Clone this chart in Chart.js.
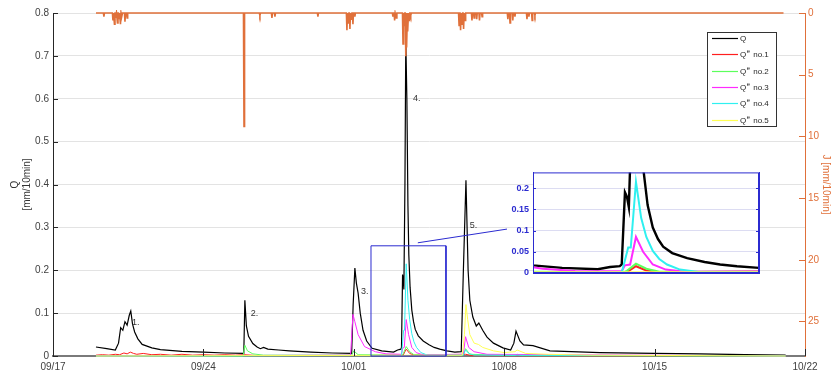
<!DOCTYPE html>
<html>
<head>
<meta charset="utf-8">
<script src="https://cdn.jsdelivr.net/npm/chart.js@4"></script>
<style>
body { margin: 0; background: #fff; font-family: "Liberation Sans", Arial, sans-serif; }
#wrap { position: relative; width: 836px; height: 378px; }
#main { position: absolute; left: 0; top: 0; }
#inset { position: absolute; left: 500px; top: 163px; }
</style>
</head>
<body>
<div id="wrap">
  <canvas id="main" width="836" height="378"></canvas>
  <canvas id="inset" width="270" height="120"></canvas>
</div>
<script>
// dates on the x axis (days since 09/17)
const dates = ["09/17", "09/24", "10/01", "10/08", "10/15", "10/22"];

// Q [mm/10min] : [day, value]
const qObs = [
  [2.0,0.021],[2.5,0.017],[2.9,0.014],[3.05,0.03],[3.15,0.066],[3.25,0.06],[3.35,0.08],[3.45,0.072],
  [3.55,0.095],[3.62,0.105],[3.7,0.075],[3.8,0.056],[3.95,0.04],[4.15,0.027],[4.6,0.019],[5.0,0.015],
  [6.0,0.011],[7.0,0.009],[8.0,0.007],[8.88,0.006],[8.93,0.13],[9.0,0.07],[9.1,0.046],[9.3,0.029],
  [9.5,0.021],[9.65,0.017],[9.8,0.02],[10.0,0.016],[10.5,0.014],[11.0,0.012],[12.0,0.009],[13.0,0.007],
  [13.9,0.006],[13.97,0.12],[14.05,0.205],[14.12,0.17],[14.2,0.147],[14.3,0.1],[14.43,0.06],[14.6,0.035],
  [14.85,0.018],[15.3,0.012],[15.85,0.009],[16.04,0.014],[16.19,0.016],[16.22,0.02],[16.27,0.19],[16.3,0.18],
  [16.33,0.155],[16.38,0.4],[16.42,0.74],[16.47,0.6],[16.52,0.35],[16.56,0.237],[16.62,0.16],[16.7,0.107],
  [16.78,0.08],[16.86,0.062],[17.0,0.047],[17.23,0.035],[17.5,0.026],[17.74,0.02],[18.0,0.016],[18.34,0.012],
  [18.7,0.009],[19.0,0.01],[19.1,0.2],[19.22,0.41],[19.32,0.2],[19.4,0.13],[19.54,0.091],[19.7,0.07],
  [19.82,0.077],[20.0,0.06],[20.2,0.044],[20.5,0.03],[20.94,0.019],[21.3,0.014],[21.45,0.03],[21.55,0.058],
  [21.73,0.035],[21.9,0.026],[22.34,0.024],[23.13,0.012],[25.45,0.008],[28.0,0.006],[30.1,0.005],[32.2,0.003],
  [34.1,0.002]
];

// Qe no.1 .. no.5
const qe1 = [
  [2.0,0.002],[2.3,0.003],[2.6,0.002],[2.9,0.004],[3.1,0.003],[3.3,0.007],[3.45,0.005],[3.6,0.009],
  [3.75,0.006],[3.9,0.004],[4.2,0.006],[4.6,0.003],[5.0,0.004],[5.5,0.002],[6.0,0.004],[6.5,0.002],
  [7.0,0.003],[7.5,0.002],[8.0,0.003],[8.5,0.002],[8.9,0.003],[9.5,0.001],[14.0,0.001],[16.3,0.002],
  [16.44,0.016],[16.6,0.006],[16.8,0.002],[19.2,0.004],[19.5,0.001],[34.1,0]
];
const qe2 = [
  [2.0,0],[8.85,0],[8.93,0.025],[9.05,0.012],[9.3,0.005],[9.8,0.002],[13.9,0.002],[14.0,0.012],[14.2,0.003],
  [16.25,0.002],[16.3,0.005],[16.44,0.022],[16.6,0.01],[16.8,0.003],[19.1,0.003],[19.2,0.017],[19.4,0.004],
  [21.5,0.001],[21.6,0.004],[21.8,0.001],[34.1,0]
];
const qe3 = [
  [2.0,0],[13.85,0.002],[13.96,0.097],[14.05,0.08],[14.2,0.05],[14.5,0.022],[15.0,0.01],[15.5,0.005],
  [16.22,0.004],[16.27,0.018],[16.35,0.02],[16.44,0.085],[16.55,0.05],[16.7,0.02],[16.9,0.008],[17.2,0.003],
  [19.1,0.004],[19.2,0.045],[19.35,0.02],[19.6,0.01],[20.2,0.004],[34.1,0]
];
const qe4 = [
  [2.0,0],[16.22,0.001],[16.27,0.03],[16.32,0.06],[16.36,0.06],[16.44,0.215],[16.52,0.13],[16.6,0.085],
  [16.7,0.052],[16.8,0.033],[16.92,0.02],[17.12,0.008],[17.43,0.002],[19.1,0.002],[19.2,0.014],[19.35,0.006],
  [19.6,0.002],[34.1,0]
];
const qe5 = [
  [2.0,0],[19.05,0.002],[19.15,0.05],[19.22,0.12],[19.3,0.085],[19.4,0.05],[19.6,0.03],[19.8,0.027],
  [20.0,0.02],[20.5,0.012],[21.0,0.008],[21.5,0.01],[21.6,0.014],[22.0,0.006],[23.0,0.004],[25.0,0.002],[34.1,0]
];

// J rainfall [mm/10min] : [day, value]
const rain = [
  [2.37,0.3],[2.79,0.6],[2.86,0.9],[2.93,0.4],[3.0,0.8],[3.07,0.5],[3.14,0.9],[3.21,0.3],[3.35,0.7],[3.45,0.4],
  [8.89,9.2],[9.63,0.2],[10.19,0.4],[10.33,0.3],[12.33,0.3],
  [13.68,1.4],[13.75,0.8],[13.82,1.3],[13.89,0.5],[13.96,0.9],[14.05,0.3],
  [15.82,0.3],[15.9,0.6],[15.98,0.4],
  [16.29,2.5],[16.35,1.0],[16.42,3.5],[16.47,2.8],[16.52,1.5],[16.58,0.6],[16.65,0.2],
  [18.9,1.0],[18.97,1.4],[19.04,0.9],[19.11,1.3],[19.18,0.6],
  [19.5,0.6],[19.6,0.4],[19.72,0.5],[19.85,0.6],[19.97,0.3],
  [21.17,0.5],[21.27,0.8],[21.4,0.6],[21.5,0.3],
  [22.06,0.5],[22.15,0.3],[22.3,0.6],[22.43,0.2]
];

// event numbers: [day, Q, text]
const events = [[3.68,0.077,"1."],[9.2,0.098,"2."],[14.33,0.15,"3."],[16.75,0.6,"4."],[19.4,0.305,"5."]];

// zoomed window (days, Q)
const zoomDays = [14.8, 18.29];
const zoomTop = 0.257;
const insetDays = [14.85, 18.34];

const names = ["Q", "no.1", "no.2", "no.3", "no.4", "no.5"];
const colors = ["#000000", "#ff1f1f", "#5cff5c", "#ff2bff", "#2ff0f0", "#ffff55"];
const orange = "#e0703a";
const blue = "#2b2bd0";
const FONT = '"Liberation Sans", Arial, sans-serif';

Chart.defaults.font.family = FONT;
Chart.defaults.font.size = 10;
Chart.defaults.color = "#404040";

const xy = arr => arr.map(p => ({ x: p[0], y: p[1] }));

function rainPoints() {
  const pts = [{ x: 2.0, y: 0 }];
  rain.forEach(r => {
    pts.push({ x: r[0] - 0.025, y: 0 }, { x: r[0], y: r[1] }, { x: r[0] + 0.025, y: 0 });
  });
  pts.push({ x: 34.0, y: 0 });
  return pts;
}

const series = [qObs, qe1, qe2, qe3, qe4, qe5];

function lineSets(width) {
  // Chart.js draws dataset 0 on top, so reverse to keep Q underneath
  return series.map((s, i) => ({
    label: names[i],
    data: xy(s),
    borderColor: colors[i],
    borderWidth: i === 0 ? width * 1.2 : width,
    yAxisID: "y"
  })).reverse();
}

/* tick marks pointing inward, event labels, legend box */
const extras = {
  id: "extras",
  afterDraw(chart) {
    const { ctx, chartArea: a, scales: { x, y, y2 } } = chart;
    ctx.save();
    ctx.lineWidth = 1;
    ctx.strokeStyle = "#262626";
    ctx.beginPath();
    y.ticks.forEach(t => {
      const py = Math.round(y.getPixelForValue(t.value)) + 0.5;
      ctx.moveTo(a.left, py); ctx.lineTo(a.left + 5, py);
    });
    x.ticks.forEach(t => {
      const px = Math.round(x.getPixelForValue(t.value)) + 0.5;
      ctx.moveTo(px, a.bottom); ctx.lineTo(px, a.bottom - 7);
    });
    ctx.stroke();
    ctx.strokeStyle = orange;
    ctx.beginPath();
    y2.ticks.forEach(t => {
      const py = Math.round(y2.getPixelForValue(t.value)) + 0.5;
      ctx.moveTo(a.right, py); ctx.lineTo(a.right - 6, py);
    });
    ctx.stroke();

    ctx.fillStyle = "#333";
    ctx.font = "9px " + FONT;
    ctx.textBaseline = "middle";
    events.forEach(e => {
      ctx.fillText(e[2], x.getPixelForValue(e[0]), y.getPixelForValue(e[1]));
    });

    // legend
    const lx = 707, ly = 32;
    ctx.fillStyle = "#fff";
    ctx.fillRect(lx, ly, 69, 94);
    ctx.strokeStyle = "#333";
    ctx.strokeRect(lx + 0.5, ly + 0.5, 69, 94);
    names.forEach((n, i) => {
      const cy = Math.round(ly + 6 + i * 16.3) + 0.5;
      ctx.strokeStyle = colors[i];
      ctx.lineWidth = 1.2;
      ctx.beginPath();
      ctx.moveTo(lx + 5, cy); ctx.lineTo(lx + 31, cy);
      ctx.stroke();
      ctx.fillStyle = "#262626";
      ctx.font = "8px " + FONT;
      ctx.fillText("Q", lx + 33, cy);
      if (i > 0) {
        const w = ctx.measureText("Q").width;
        ctx.font = "6px " + FONT;
        ctx.fillText("e", lx + 33 + w + 0.5, cy - 3);
        ctx.font = "8px " + FONT;
        ctx.fillText(n, lx + 33 + w + 7, cy);
      }
    });
    ctx.restore();
  }
};

const zoomBox = [
  { x: zoomDays[0], y: 0 }, { x: zoomDays[0], y: zoomTop }, { x: zoomDays[1], y: zoomTop },
  { x: zoomDays[1], y: 0 }, { x: zoomDays[0], y: 0 }
];
const connector = [{ x: 16.98, y: 0.264 }, { x: 21.13, y: 0.296 }];

new Chart(document.getElementById("main"), {
  type: "line",
  data: {
    datasets: [
      { label: "J", data: rainPoints(), borderColor: orange, borderWidth: 1.6, yAxisID: "y2" },
      { label: "box", data: zoomBox, borderColor: blue, borderWidth: 1, yAxisID: "y" },
      { label: "link", data: connector, borderColor: blue, borderWidth: 1, yAxisID: "y" },
      ...lineSets(1)
    ]
  },
  options: {
    responsive: false,
    animation: false,
    clip: 3,
    layout: { padding: { top: 13, left: 0, right: 0, bottom: 0 } },
    plugins: { legend: { display: false }, tooltip: { enabled: false } },
    elements: { point: { radius: 0 }, line: { tension: 0 } },
    scales: {
      x: {
        type: "linear", min: 0, max: 35,
        afterFit(s) { s.height = 22; },
        ticks: { stepSize: 7, autoSkip: false, maxRotation: 0, padding: 5, callback: v => dates[v / 7] },
        grid: { display: false, drawTicks: false },
        border: { color: "#7a7a7a", width: 2 }
      },
      y: {
        position: "left", min: 0, max: 0.8,
        afterFit(s) { s.width = 53; },
        ticks: { stepSize: 0.1, padding: 4, includeBounds: false, callback: v => +v.toFixed(1) },
        grid: { color: "#e3e3e3", drawTicks: false },
        border: { color: "#262626" },
        title: { display: true, text: ["Q", "[mm/10min]"], font: { size: 10 }, color: "#333", padding: { top: 9, bottom: 0 } }
      },
      y2: {
        position: "right", min: 0, max: 27.8, reverse: true,
        afterFit(s) { s.width = 31; },
        ticks: { stepSize: 5, padding: 3, includeBounds: false, color: orange },
        grid: { display: false, drawTicks: false },
        border: { color: orange },
        title: { display: true, text: "J [mm/10min]", color: orange, font: { size: 10 }, padding: { top: 4, bottom: 0 } }
      }
    }
  },
  plugins: [extras]
});

/* inset: zoom of event 4 */
const insetFrame = {
  id: "insetFrame",
  beforeDraw(chart) {
    const { ctx, chartArea: a } = chart;
    ctx.save();
    ctx.fillStyle = "#fff";
    ctx.fillRect(a.left, a.top, a.right - a.left, a.bottom - a.top);
    ctx.restore();
  },
  afterDraw(chart) {
    const { ctx, chartArea: a, scales: { y } } = chart;
    ctx.save();
    ctx.strokeStyle = blue;
    ctx.lineWidth = 1;
    ctx.strokeRect(a.left + 0.5, a.top + 0.5, a.right - a.left - 1, a.bottom - a.top - 1);
    ctx.beginPath();
    y.ticks.forEach(t => {
      const py = Math.round(y.getPixelForValue(t.value)) + 0.5;
      ctx.moveTo(a.left, py); ctx.lineTo(a.left + 3, py);
      ctx.moveTo(a.right, py); ctx.lineTo(a.right - 3, py);
    });
    ctx.stroke();
    ctx.restore();
  }
};

new Chart(document.getElementById("inset"), {
  type: "line",
  data: { datasets: lineSets(2) },
  options: {
    responsive: false,
    animation: false,
    layout: { padding: { top: 8, left: 0, right: 0, bottom: 0 } },
    plugins: { legend: { display: false }, tooltip: { enabled: false } },
    elements: { point: { radius: 0 }, line: { tension: 0 } },
    scales: {
      x: {
        type: "linear", min: insetDays[0], max: insetDays[1],
        afterFit(s) { s.height = 10; },
        ticks: { display: false },
        grid: { display: false, drawTicks: false },
        border: { color: blue }
      },
      y: {
        position: "left", min: 0, max: 0.237,
        afterFit(s) { s.width = 33; },
        ticks: { stepSize: 0.05, padding: 4, includeBounds: false, color: blue,
                 font: { size: 9, weight: "bold" }, callback: v => +v.toFixed(2) },
        grid: { color: "#dcdcf2", drawTicks: false },
        border: { color: blue }
      },
      yr: {
        position: "right", min: 0, max: 0.237,
        afterFit(s) { s.width = 11; },
        ticks: { display: false },
        grid: { display: false, drawTicks: false },
        border: { color: blue }
      }
    }
  },
  plugins: [insetFrame]
});
</script>
</body>
</html>
